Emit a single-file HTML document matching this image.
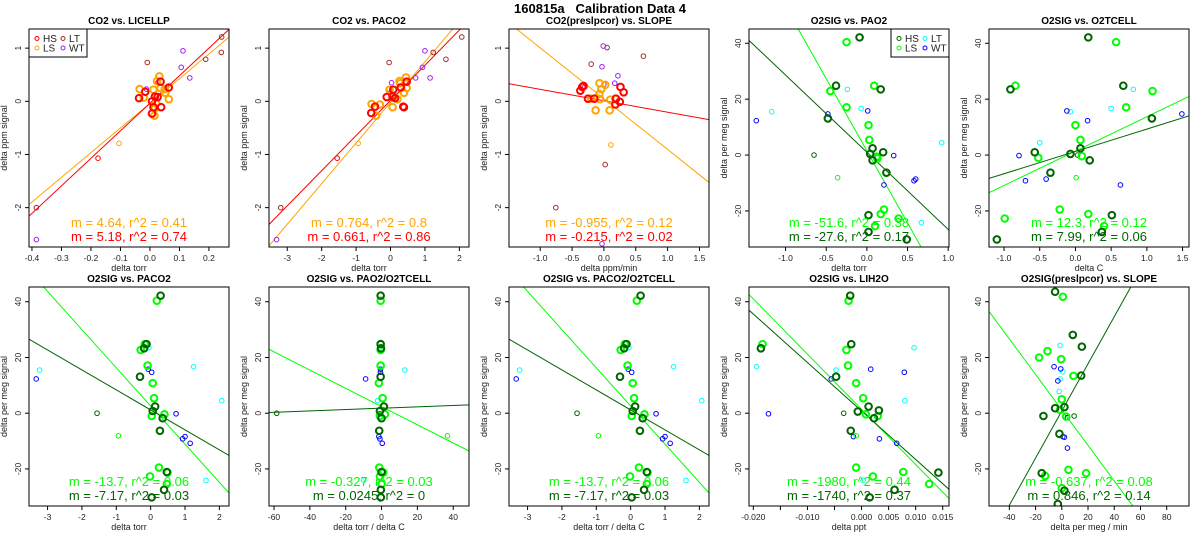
<!DOCTYPE html>
<html><head><meta charset="utf-8"><style>
html,body{margin:0;padding:0;background:#fff;width:1200px;height:550px;overflow:hidden;}
svg{display:block;font-family:"Liberation Sans",Arial,sans-serif;}
</style></head><body>
<svg id="chart" width="1200" height="550" viewBox="0 0 1200 550" xmlns="http://www.w3.org/2000/svg">
<rect x="0" y="0" width="1200" height="550" fill="#fff"/>
<text x="600" y="13" text-anchor="middle" font-size="13" font-weight="bold" xml:space="preserve">160815a   Calibration Data 4</text>
</svg>
<script>
// ---- Data ----
const p1HS = [[-0.037,0.06],[-0.016,0.18],[0.007,-0.23],[0.012,-0.11],[0.017,0.09],[0.026,0.08],[0.038,-0.11],[0.036,0.37],[0.064,0.26],[0.007,0.0]];
const p1LS = [[-0.035,0.23],[-0.021,0.07],[0.012,0.22],[0.017,-0.13],[0.015,-0.27],[0.021,-0.04],[0.032,0.47],[0.024,0.38],[0.036,0.25],[0.052,0.16],[0.064,0.04],[0.05,0.23]];
const p1HSthin = [[-0.176,-1.07]];
const p1LSthin = [[-0.105,-0.79]];
const p1LT = [[-0.385,-2.0],[-0.009,0.73],[0.189,0.79],[0.242,0.92],[0.243,1.21]];
const p1WT = [[-0.385,-2.6],[0.112,0.95],[0.106,0.64],[0.135,0.44],[-0.012,0.23],[0.027,0.35]];
const p1Fit = [[4.64,-0.038],[5.18,-0.036]];
const p2HS = [[-0.56,-0.22],[-0.45,-0.1],[-0.11,0.08],[0.06,0.09],[0.13,0.06],[0.3,0.26],[0.47,0.37],[0.37,-0.1],[0.39,-0.11],[0.08,0.22]];
const p2LS = [[-0.55,-0.05],[-0.42,-0.27],[-0.31,-0.06],[0.06,-0.11],[-0.03,0.22],[0.26,0.38],[0.45,0.45],[0.47,0.25],[0.39,0.16],[0.2,0.04],[0.08,0.09],[0.28,0.34]];
const p2HSthin = [[-1.55,-1.07]];
const p2LSthin = [[-0.94,-0.79]];
const p2LT = [[-3.19,-2.0],[-0.04,0.73],[1.61,0.79],[1.24,0.92],[2.07,1.21]];
const p2WT = [[-3.31,-2.6],[1.0,0.95],[0.93,0.64],[0.73,0.44],[1.15,0.44],[-0.04,0.23],[0.03,0.35]];
const p2Fit = [[0.764,-0.02],[0.661,0.017]];
const p3HS = [[-0.37,0.2],[-0.34,0.27],[-0.32,0.29],[-0.25,0.05],[-0.15,0.05],[0.26,0.27],[0.31,0.17],[0.25,-0.01],[0.18,-0.06],[0.19,0.05]];
const p3LS = [[-0.07,0.34],[-0.04,0.23],[-0.07,0.14],[0.02,0.31],[-0.13,-0.17],[0.09,-0.17],[0.1,0.03],[-0.06,0.04],[-0.2,0.05],[0.18,0.05]];
const p3HSthin = [];
const p3LSthin = [[0.11,-0.82]];
const p3LT = [[-0.755,-2.0],[0.05,1.01],[-0.2,0.7],[0.02,-1.19],[0.62,0.85]];
const p3WT = [[-0.01,1.04],[-0.03,0.65],[0.22,0.48],[0.17,0.34],[0.0,0.32],[-0.3,0.27],[-0.03,-2.68]];
const p3Fit = [[-0.955,0.05],[-0.215,0.01]];
const p4HS = [[-0.09,42.1],[-0.38,24.8],[0.17,23.5],[-0.48,13.1],[0.04,0.4],[0.07,2.4],[0.2,1.0],[0.07,-1.9],[0.24,-6.3],[0.02,-21.5],[0.02,-27.5],[0.49,-30.2]];
const p4LS = [[-0.25,40.4],[-0.45,22.9],[0.09,24.8],[-0.25,17.1],[0.02,10.7],[0.03,5.4],[0.12,-0.6],[0.13,-1.2],[0.21,-19.5],[0.17,-21.1],[0.1,-25.4],[0.39,-22.7]];
const p4HSthin = [[-0.65,0]];
const p4LSthin = [[-0.36,-8.1]];
const p4LT = [[-1.17,15.5],[-0.24,23.5],[-0.07,16.7],[0.92,4.4],[0.67,-24.2]];
const p4WT = [[-1.36,12.3],[-0.48,14.7],[0.01,15.8],[0.33,-0.2],[0.58,-9.2],[0.6,-8.6],[0.21,-10.7]];
const p4Fit = [[-51.6,1.5],[-27.6,1.0]];
const p5HS = [[0.18,42.1],[0.67,24.8],[-0.91,23.5],[1.07,13.1],[-0.57,1.0],[-0.07,0.4],[0.07,2.4],[0.2,-1.9],[-0.35,-6.3],[0.51,-21.5],[0.37,-27.5],[-1.1,-30.2]];
const p5LS = [[0.57,40.4],[1.08,22.9],[-0.84,24.8],[0.71,17.1],[0.0,10.7],[0.07,5.4],[0.09,-0.4],[-0.52,-1.0],[-0.22,-19.5],[0.18,-21.1],[-0.99,-22.7],[0.4,-25.4]];
const p5HSthin = [[0.03,0]];
const p5LSthin = [[0.01,-8.1]];
const p5LT = [[-0.07,15.5],[0.81,23.5],[0.5,16.7],[-0.5,4.4]];
const p5WT = [[-0.12,15.8],[0.17,12.3],[1.49,14.7],[-0.79,-0.2],[-0.7,-9.2],[-0.41,-8.6],[0.63,-10.7]];
const p5Fit = [[12.3,1.4],[7.99,1.3]];
const p6HS = [[0.29,42.2],[-0.12,24.8],[-0.19,23.3],[-0.31,13.1],[0.06,0.8],[0.13,2.4],[0.35,-1.8],[0.27,-6.3],[0.47,-21.1],[0.39,-27.5],[0.03,-30.2]];
const p6LS = [[0.18,40.4],[-0.29,22.7],[-0.17,24.8],[-0.09,17.1],[0.06,10.8],[0.1,5.4],[0.4,-0.4],[0.03,-1.0],[0.24,-19.5],[0.49,-21.3],[-0.02,-22.7],[0.47,-25.4]];
const p6HSthin = [[-1.56,0]];
const p6LSthin = [[-0.94,-8.1]];
const p6LT = [[-3.23,15.5],[-0.05,23.5],[1.25,16.7],[2.07,4.5],[1.61,-24.1]];
const p6WT = [[-3.33,12.3],[-0.07,15.8],[0.03,14.7],[0.74,-0.2],[0.93,-9.2],[1.0,-8.4],[1.15,-10.8]];
const p6Fit = [[-13.7,2.6],[-7.17,1.2]];
const p7HS = [[-0.5,42.2],[-0.5,24.8],[-0.3,23.3],[-0.5,13.1],[-0.9,0.8],[1.3,2.4],[0,-1.8],[-1.3,-6.3],[0,-21.1],[-0.4,-27.5],[-0.4,-30.2]];
const p7LS = [[-0.5,40.4],[-0.5,22.7],[-0.5,24.8],[-0.5,17.1],[-1.5,10.8],[0.6,5.4],[1.9,-0.4],[-0.9,-1.0],[-1.3,-19.5],[0.9,-21.3],[-0.9,-22.7],[0,-25.4]];
const p7HSthin = [[-58.5,0]];
const p7LSthin = [[36.8,-8.1]];
const p7LT = [[13,15.5],[-0.9,23.5],[-2.2,4.5],[-10,-24]];
const p7WT = [[-8.9,12.3],[-0.6,15.8],[-0.6,14.7],[-0.9,-0.2],[-1.5,-8.4],[-0.9,-9.2],[0.4,-10.8]];
const p7Fit = [[-0.327,2.4],[0.0245,1.8]];
const p9HS = [[-0.0021,42.2],[-0.0019,24.8],[-0.0186,23.3],[-0.0047,13.1],[-0.0007,0.6],[0.0013,2.4],[0.0032,1.0],[0.0023,-1.8],[-0.002,-6.3],[0.0142,-21.3],[0.0061,-27.5],[0.0015,-30.2]];
const p9LS = [[-0.0024,40.4],[-0.0183,24.8],[-0.0028,22.7],[-0.0025,17.1],[-0.001,10.8],[0.0003,5.4],[0.0008,-0.4],[0.003,-1.0],[-0.001,-19.5],[0.0077,-21.1],[0.0021,-22.7],[0.0125,-25.4]];
const p9HSthin = [[-0.0033,0]];
const p9LSthin = [[-0.001,-8.1]];
const p9LT = [[-0.0194,16.7],[-0.0047,15.5],[0.008,4.5],[0.0097,23.5],[0.0003,-24.1]];
const p9WT = [[-0.0172,-0.2],[-0.0056,12.3],[0.0017,15.8],[0.0079,14.7],[-0.0015,-8.4],[0.0033,-9.2],[0.0065,-10.8]];
const p9Fit = [[-1980,1.4],[-1740,0.8]];
const p10HS = [[-5.1,43.6],[8.4,28.1],[15.3,23.9],[14.8,13.5],[-5.1,1.8],[2,2.2],[-14,-1],[-1.8,-7.4],[-15.3,-21.5],[2,-27.8],[-3,-32.6]];
const p10LS = [[0.8,41.8],[-10.9,22.3],[-17.3,20],[-0.5,19.4],[8.9,13.4],[0,5],[-1.3,1.2],[3.3,-1.2],[5.1,-20.3],[18.6,-21.5],[-12.7,-22.5],[0,-26.9]];
const p10HSthin = [[9.4,-1]];
const p10LSthin = [];
const p10LT = [[-1.3,24.3],[0.8,14.9],[-1.3,12.3],[-2,7.8]];
const p10WT = [[-5.9,16.7],[-0.8,15.9],[-3,11.6],[4.3,-1.6],[0.8,-8.4],[2,-8.6],[4.3,-12.5]];
const p10Fit = [[-0.637,1.2],[0.846,0.8]];

const fitLabels1 = ["m = 4.64, r^2 = 0.41","m = 5.18, r^2 = 0.74"];
const fitLabels2 = ["m = 0.764, r^2 = 0.8","m = 0.661, r^2 = 0.86"];
const fitLabels3 = ["m = -0.955, r^2 = 0.12","m = -0.215, r^2 = 0.02"];
const fitLabels4 = ["m = -51.6, r^2 = 0.38","m = -27.6, r^2 = 0.17"];
const fitLabels5 = ["m = 12.3, r^2 = 0.12","m = 7.99, r^2 = 0.06"];
const fitLabels6 = ["m = -13.7, r^2 = 0.06","m = -7.17, r^2 = 0.03"];
const fitLabels7 = ["m = -0.327, r^2 = 0.03","m = 0.0245, r^2 = 0"];
const fitLabels9 = ["m = -1980, r^2 = 0.44","m = -1740, r^2 = 0.37"];
const fitLabels10 = ["m = -0.637, r^2 = 0.08","m = 0.846, r^2 = 0.14"];

const xt1 = [-0.4,-0.3,-0.2,-0.1,0.0,0.1,0.2];
const xt1lab = ["-0.4","-0.3","-0.2","-0.1","0.0","0.1","0.2"];
const xt2 = [-3,-2,-1,0,1,2];
const xt3 = [-1.0,-0.5,0.0,0.5,1.0,1.5];
const xt3lab = ["-1.0","-0.5","0.0","0.5","1.0","1.5"];
const xt4 = [-1.0,-0.5,0.0,0.5,1.0];
const xt4lab = ["-1.0","-0.5","0.0","0.5","1.0"];
const xt5 = [-1.0,-0.5,0.0,0.5,1.0,1.5];
const xt7 = [-60,-40,-20,0,20,40];
const xt9 = [-0.020,-0.015,-0.010,-0.005,0.000,0.005,0.010,0.015];
const xt9lab = ["-0.020","","-0.010","","0.000","0.005","0.010","0.015"];
const xt10 = [-40,-20,0,20,40,60,80];
const ytCO2 = [-2,-1,0,1];
const ytO2 = [-20,0,20,40];

// ---- Layout (not data) ----
const CO2C = {thick:["#FF0000","#FFA500"], lt:"#A52A2A", wt:"#A020F0"};
const O2C = {thick:["#006400","#00FF00"], lt:"#00FFFF", wt:"#0000FF"};
const panels = [
 {name:"co2-vs-licellp",col:0,row:0,title:"CO2 vs. LICELLP",xl:"delta torr",yl:"delta ppm signal",xr:[-0.41,0.268],yr:[-2.74,1.36],xt:xt1,xtl:xt1lab,yt:ytCO2,c:CO2C,HS:p1HS,LS:p1LS,HSt:p1HSthin,LSt:p1LSthin,LT:p1LT,WT:p1WT,fit:p1Fit,lab:fitLabels1,legend:true},
 {name:"co2-vs-paco2",col:1,row:0,title:"CO2 vs. PACO2",xl:"delta torr",yl:"delta ppm signal",xr:[-3.53,2.28],yr:[-2.74,1.36],xt:xt2,yt:ytCO2,c:CO2C,HS:p2HS,LS:p2LS,HSt:p2HSthin,LSt:p2LSthin,LT:p2LT,WT:p2WT,fit:p2Fit,lab:fitLabels2},
 {name:"co2-vs-slope",col:2,row:0,title:"CO2(preslpcor) vs. SLOPE",xl:"delta ppm/min",yl:"delta ppm signal",xr:[-1.49,1.65],yr:[-2.74,1.36],xt:xt3,xtl:xt3lab,yt:ytCO2,c:CO2C,HS:p3HS,LS:p3LS,HSt:p3HSthin,LSt:p3LSthin,LT:p3LT,WT:p3WT,fit:p3Fit,lab:fitLabels3},
 {name:"o2sig-vs-pao2",col:3,row:0,title:"O2SIG vs. PAO2",xl:"delta torr",yl:"delta per meg signal",xr:[-1.45,1.01],yr:[-32.9,45.1],xt:xt4,xtl:xt4lab,yt:ytO2,c:O2C,HS:p4HS,LS:p4LS,HSt:p4HSthin,LSt:p4LSthin,LT:p4LT,WT:p4WT,fit:p4Fit,lab:fitLabels4,legend:true},
 {name:"o2sig-vs-o2tcell",col:4,row:0,title:"O2SIG vs. O2TCELL",xl:"delta C",yl:"delta per meg signal",xr:[-1.21,1.59],yr:[-32.9,45.1],xt:xt5,xtl:xt3lab,yt:ytO2,c:O2C,HS:p5HS,LS:p5LS,HSt:p5HSthin,LSt:p5LSthin,LT:p5LT,WT:p5WT,fit:p5Fit,lab:fitLabels5},
 {name:"o2sig-vs-paco2",col:0,row:1,title:"O2SIG vs. PACO2",xl:"delta torr",yl:"delta per meg signal",xr:[-3.54,2.28],yr:[-33.3,45.3],xt:xt2,yt:ytO2,c:O2C,HS:p6HS,LS:p6LS,HSt:p6HSthin,LSt:p6LSthin,LT:p6LT,WT:p6WT,fit:p6Fit,lab:fitLabels6},
 {name:"o2sig-vs-pao2-o2tcell",col:1,row:1,title:"O2SIG vs. PAO2/O2TCELL",xl:"delta torr / delta C",yl:"delta per meg signal",xr:[-62.8,48.8],yr:[-33.3,45.3],xt:xt7,yt:ytO2,c:O2C,HS:p7HS,LS:p7LS,HSt:p7HSthin,LSt:p7LSthin,LT:p7LT,WT:p7WT,fit:p7Fit,lab:fitLabels7},
 {name:"o2sig-vs-paco2-o2tcell",col:2,row:1,title:"O2SIG vs. PACO2/O2TCELL",xl:"delta torr / delta C",yl:"delta per meg signal",xr:[-3.54,2.28],yr:[-33.3,45.3],xt:xt2,yt:ytO2,c:O2C,HS:p6HS,LS:p6LS,HSt:p6HSthin,LSt:p6LSthin,LT:p6LT,WT:p6WT,fit:p6Fit,lab:fitLabels6},
 {name:"o2sig-vs-lih2o",col:3,row:1,title:"O2SIG vs. LIH2O",xl:"delta ppt",yl:"delta per meg signal",xr:[-0.0208,0.01616],yr:[-33.3,45.3],xt:xt9,xtl:xt9lab,yt:ytO2,c:O2C,HS:p9HS,LS:p9LS,HSt:p9HSthin,LSt:p9LSthin,LT:p9LT,WT:p9WT,fit:p9Fit,lab:fitLabels9},
 {name:"o2sig-vs-slope",col:4,row:1,title:"O2SIG(preslpcor) vs. SLOPE",xl:"delta per meg / min",yl:"delta per meg signal",xr:[-55.5,97],yr:[-33.3,45.3],xt:xt10,yt:ytO2,c:O2C,HS:p10HS,LS:p10LS,HSt:p10HSthin,LSt:p10LSthin,LT:p10LT,WT:p10WT,fit:p10Fit,lab:fitLabels10}
];
const NS = "http://www.w3.org/2000/svg";
const svg = document.getElementById("chart");
function mk(tag, attrs, parent){
  const e = document.createElementNS(NS, tag);
  for (const k in attrs) e.setAttribute(k, attrs[k]);
  (parent||svg).appendChild(e);
  return e;
}
panels.forEach((p, i) => {
  const L = 29 + 240*p.col, R = L + 200;
  const T = p.row === 0 ? 29 : 287, B = p.row === 0 ? 247 : 506;
  const sx = v => L + (v - p.xr[0]) / (p.xr[1] - p.xr[0]) * (R - L);
  const sy = v => B - (v - p.yr[0]) / (p.yr[1] - p.yr[0]) * (B - T);
  const g = mk("g", {});
  
  
  const cp = mk("clipPath", {id:"clip"+i}, g);
  mk("rect", {x:L, y:T, width:R-L, height:B-T}, cp);
  const t = mk("text", {x:(L+R)/2, y:T-5, "text-anchor":"middle", "font-size":"10", "font-weight":"bold"}, g);
  t.textContent = p.title;
  
  
  p.xt.forEach((v, k) => {
    const x = sx(v);
    mk("line", {x1:x, x2:x, y1:B, y2:B+4, stroke:"#000", "stroke-width":"1"}, g);
    const lab = p.xtl ? p.xtl[k] : String(v);
    if (lab) {
      const tx = mk("text", {x:x, y:B+14, "text-anchor":"middle", "font-size":"8.5", fill:"#222"}, g);
      tx.textContent = lab;
      
      
    }
  });
  mk("line", {x1:sx(p.xt[0]), x2:sx(p.xt[p.xt.length-1]), y1:B, y2:B, stroke:"#000"}, g);
  const xl = mk("text", {x:(L+R)/2, y:B+24, "text-anchor":"middle", "font-size":"9", fill:"#222"}, g);
  xl.textContent = p.xl;
  
  
  p.yt.forEach(v => {
    const y = sy(v);
    mk("line", {x1:L-4, x2:L, y1:y, y2:y, stroke:"#000"}, g);
    const ty = mk("text", {x:L-8, y:y, "text-anchor":"middle", "font-size":"8.5", fill:"#222", transform:`rotate(-90 ${L-8} ${y})`}, g);
    ty.textContent = String(v);
    
    
  });
  const yl = mk("text", {x:L-22, y:(T+B)/2, "text-anchor":"middle", "font-size":"9", fill:"#222", transform:`rotate(-90 ${L-22} ${(T+B)/2})`}, g);
  yl.textContent = p.yl;
  
  
  const cg = mk("g", {"clip-path":`url(#clip${i})`}, g);
  p.fit.forEach((f, k) => {
    const x0 = p.xr[0], x1 = p.xr[1];
    const ln = mk("line", {x1:sx(x0), y1:sy(f[0]*x0+f[1]), x2:sx(x1), y2:sy(f[0]*x1+f[1]), stroke:p.c.thick[1-k], "stroke-width":"1"}, cg);
    
    
  });
  const pts = (arr, col, r, w, nm) => arr.forEach(d => {
    const c = mk("circle", {cx:sx(d[0]), cy:sy(d[1]), r:r, fill:"none", stroke:col, "stroke-width":w}, cg);
    
    
  });
  pts(p.LT, p.c.lt, 2.3, 1, 'point-lt');
  pts(p.WT, p.c.wt, 2.3, 1, 'point-wt');
  pts(p.HSt, p.c.thick[0], 2.3, 1, 'point-hs-thin');
  pts(p.LSt, p.c.thick[1], 2.3, 1, 'point-ls-thin');
  pts(p.LS, p.c.thick[1], 3.3, 2, 'point-ls');
  pts(p.HS, p.c.thick[0], 3.3, 2, 'point-hs');
  p.lab.forEach((s, k) => {
    const a = mk("text", {x:(L+R)/2, y:(p.row===0?227:486) + 14*k, "text-anchor":"middle", "font-size":"13", fill:p.c.thick[1-k]}, g);
    a.textContent = s;
    
    
  });
  mk("rect", {x:L, y:T, width:R-L, height:B-T, fill:"none", stroke:"#000", "stroke-width":"1"}, g);
  if (p.legend) {
    const lx = p.col === 0 ? L : R - 58;
    const lg = mk("g", {}, g);
    
    
    mk("rect", {x:lx, y:T, width:58, height:28, fill:"#fff", stroke:"#000"}, lg);
    const ent = [["HS",p.c.thick[0],0,0],["LT",p.c.lt,1,0],["LS",p.c.thick[1],0,1],["WT",p.c.wt,1,1]];
    ent.forEach(e => {
      const ex = lx + 8 + e[2]*26, ey = T + 9.5 + e[3]*9.5;
      mk("circle", {cx:ex, cy:ey, r:2, fill:"none", stroke:e[1], "stroke-width":"1"}, lg);
      const et = mk("text", {x:ex+6, y:ey+3.5, "font-size":"10", fill:"#222"}, lg);
      et.textContent = e[0];
      
      
    });
  }
});
</script>
</body></html>
